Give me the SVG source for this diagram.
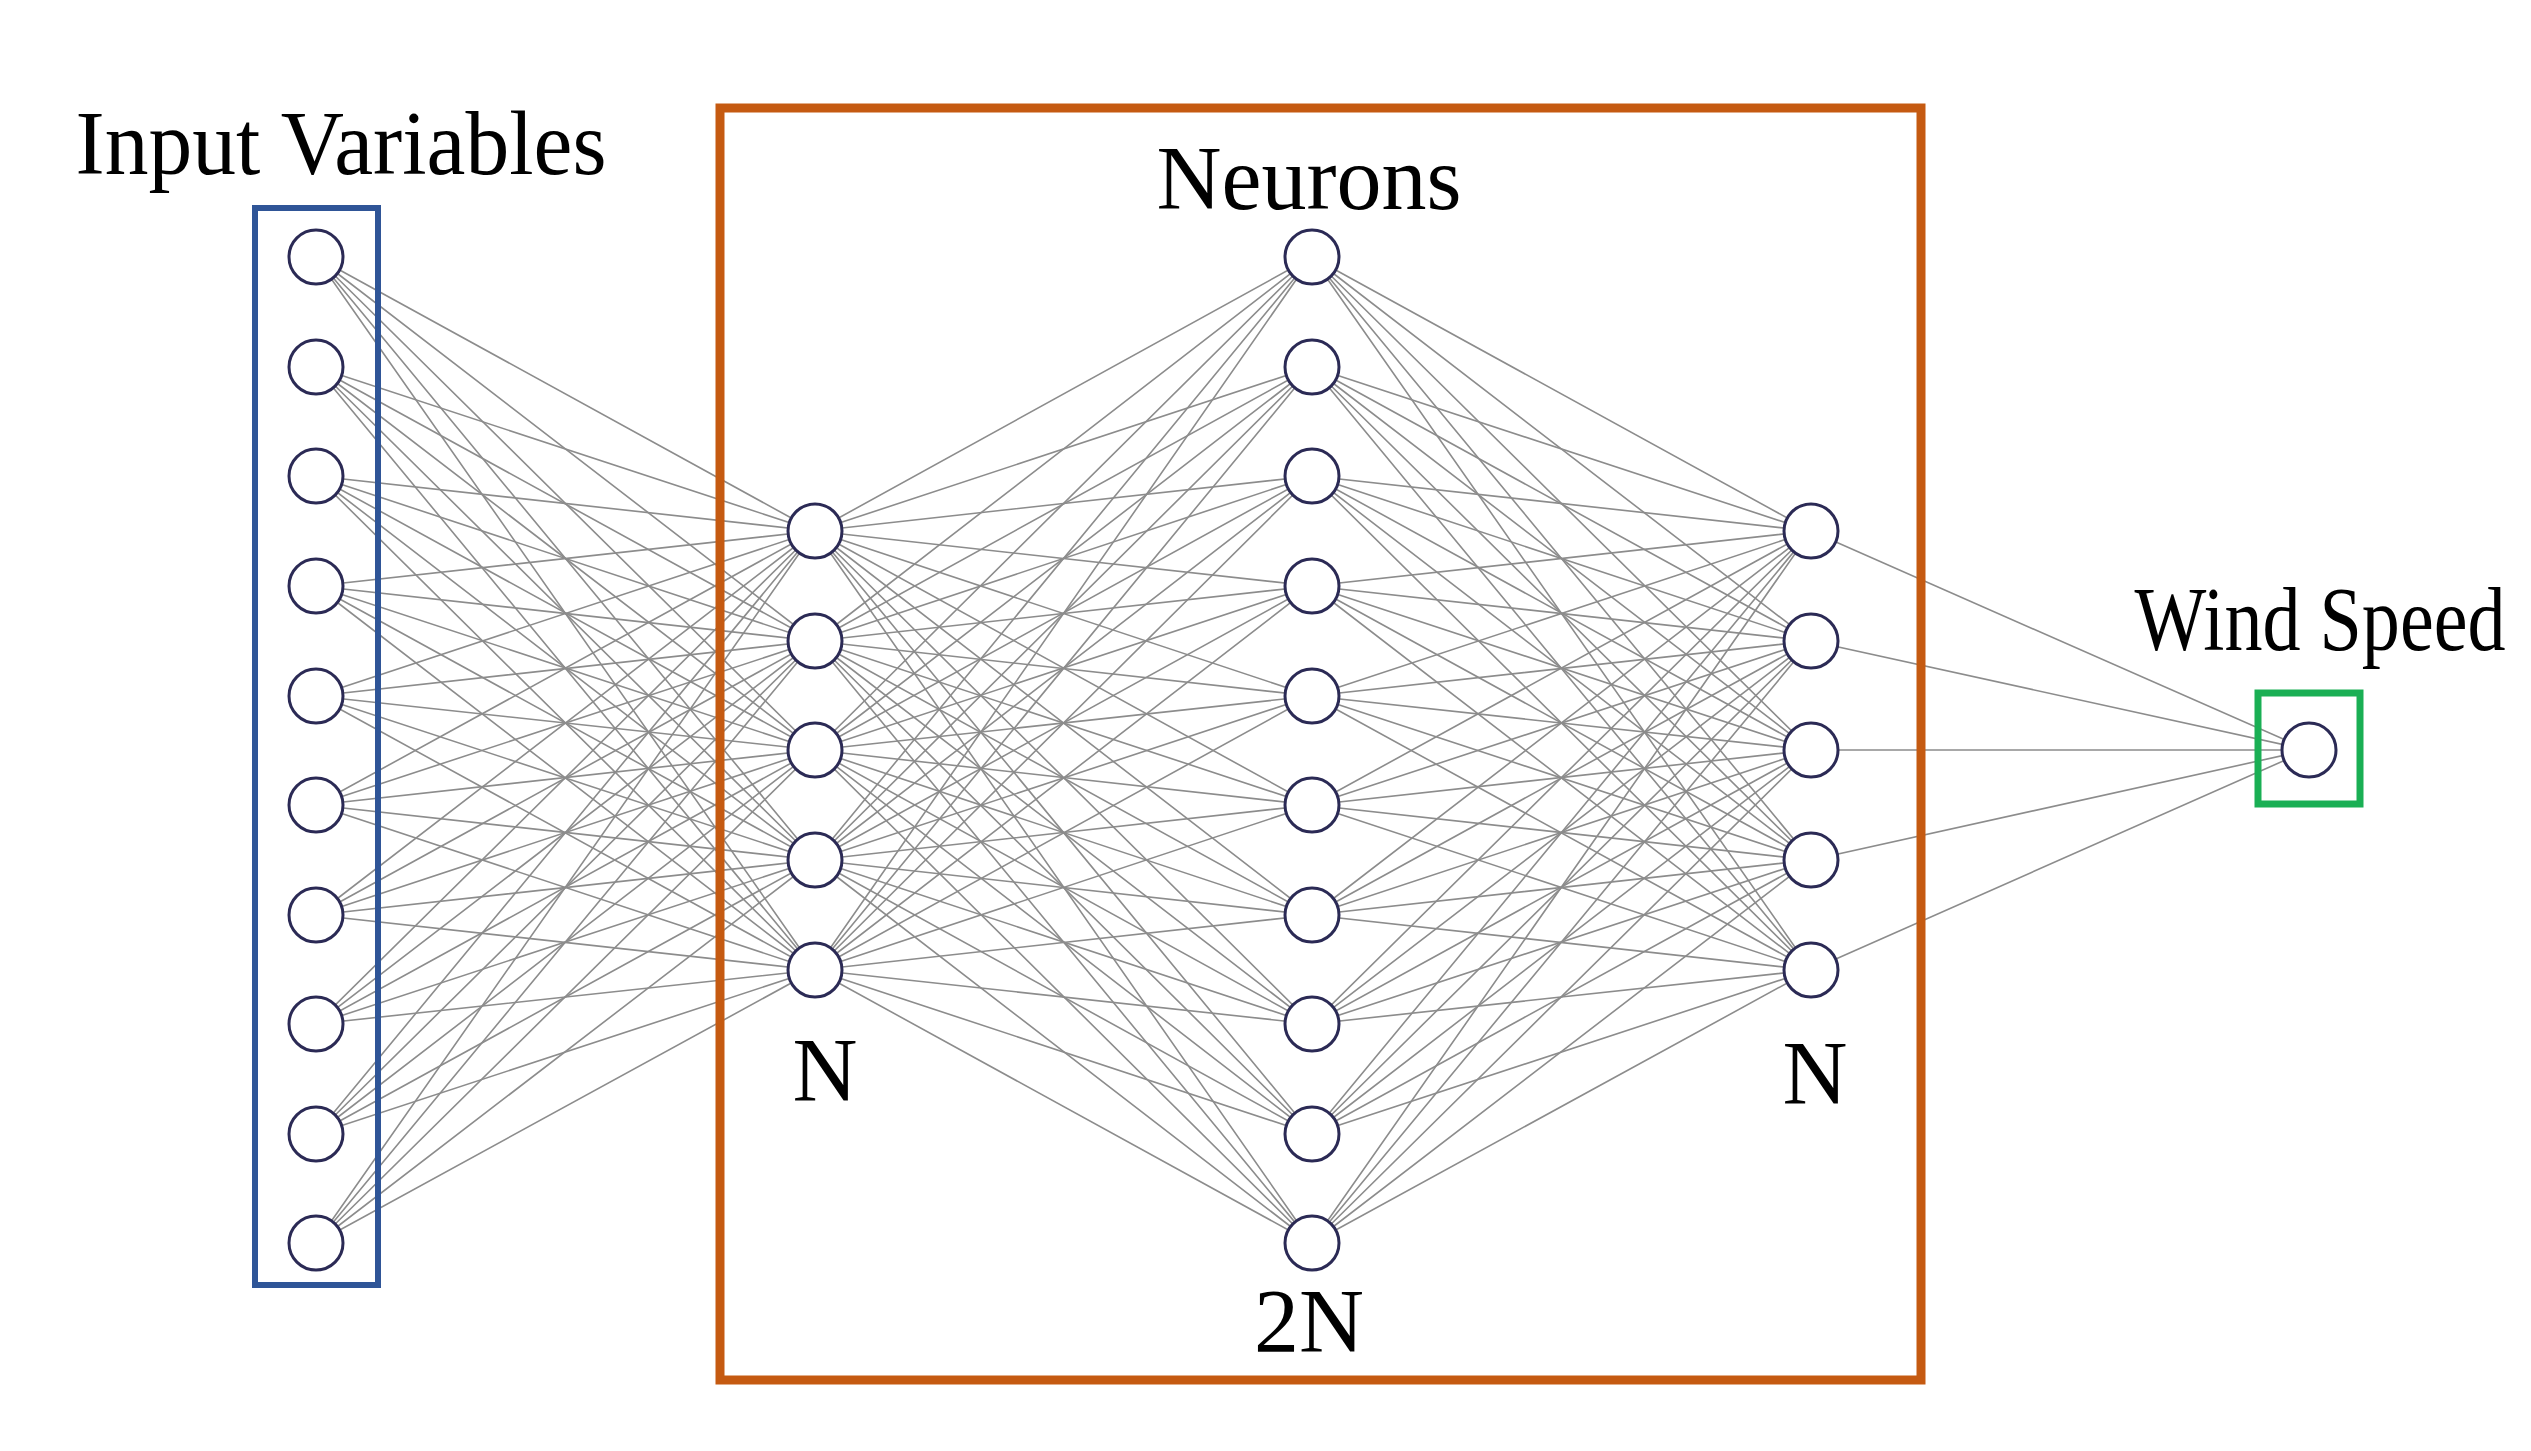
<svg xmlns="http://www.w3.org/2000/svg" width="2531" height="1451" viewBox="0 0 2531 1451">
<style>
.t{font-family:"Liberation Serif","Times New Roman",serif;font-size:90px;fill:#000;text-anchor:middle}
.c{fill:#fff;stroke:#2b2a55;stroke-width:3}
.e{fill:none;stroke:#8c8c8c;stroke-width:1.6}
</style>
<rect width="2531" height="1451" fill="#fff"/>
<g id="connectors" class="e">
<path d="M316 257L815 531M316 257L815 641M316 257L815 750M316 257L815 860M316 257L815 970"/>
<path d="M316 367L815 531M316 367L815 641M316 367L815 750M316 367L815 860M316 367L815 970"/>
<path d="M316 476L815 531M316 476L815 641M316 476L815 750M316 476L815 860M316 476L815 970"/>
<path d="M316 586L815 531M316 586L815 641M316 586L815 750M316 586L815 860M316 586L815 970"/>
<path d="M316 696L815 531M316 696L815 641M316 696L815 750M316 696L815 860M316 696L815 970"/>
<path d="M316 805L815 531M316 805L815 641M316 805L815 750M316 805L815 860M316 805L815 970"/>
<path d="M316 915L815 531M316 915L815 641M316 915L815 750M316 915L815 860M316 915L815 970"/>
<path d="M316 1024L815 531M316 1024L815 641M316 1024L815 750M316 1024L815 860M316 1024L815 970"/>
<path d="M316 1134L815 531M316 1134L815 641M316 1134L815 750M316 1134L815 860M316 1134L815 970"/>
<path d="M316 1243L815 531M316 1243L815 641M316 1243L815 750M316 1243L815 860M316 1243L815 970"/>
<path d="M815 531L1312 257M815 531L1312 367M815 531L1312 476M815 531L1312 586M815 531L1312 696M815 531L1312 805M815 531L1312 915M815 531L1312 1024M815 531L1312 1134M815 531L1312 1243"/>
<path d="M815 641L1312 257M815 641L1312 367M815 641L1312 476M815 641L1312 586M815 641L1312 696M815 641L1312 805M815 641L1312 915M815 641L1312 1024M815 641L1312 1134M815 641L1312 1243"/>
<path d="M815 750L1312 257M815 750L1312 367M815 750L1312 476M815 750L1312 586M815 750L1312 696M815 750L1312 805M815 750L1312 915M815 750L1312 1024M815 750L1312 1134M815 750L1312 1243"/>
<path d="M815 860L1312 257M815 860L1312 367M815 860L1312 476M815 860L1312 586M815 860L1312 696M815 860L1312 805M815 860L1312 915M815 860L1312 1024M815 860L1312 1134M815 860L1312 1243"/>
<path d="M815 970L1312 257M815 970L1312 367M815 970L1312 476M815 970L1312 586M815 970L1312 696M815 970L1312 805M815 970L1312 915M815 970L1312 1024M815 970L1312 1134M815 970L1312 1243"/>
<path d="M1811 531L1312 257M1811 531L1312 367M1811 531L1312 476M1811 531L1312 586M1811 531L1312 696M1811 531L1312 805M1811 531L1312 915M1811 531L1312 1024M1811 531L1312 1134M1811 531L1312 1243"/>
<path d="M1811 641L1312 257M1811 641L1312 367M1811 641L1312 476M1811 641L1312 586M1811 641L1312 696M1811 641L1312 805M1811 641L1312 915M1811 641L1312 1024M1811 641L1312 1134M1811 641L1312 1243"/>
<path d="M1811 750L1312 257M1811 750L1312 367M1811 750L1312 476M1811 750L1312 586M1811 750L1312 696M1811 750L1312 805M1811 750L1312 915M1811 750L1312 1024M1811 750L1312 1134M1811 750L1312 1243"/>
<path d="M1811 860L1312 257M1811 860L1312 367M1811 860L1312 476M1811 860L1312 586M1811 860L1312 696M1811 860L1312 805M1811 860L1312 915M1811 860L1312 1024M1811 860L1312 1134M1811 860L1312 1243"/>
<path d="M1811 970L1312 257M1811 970L1312 367M1811 970L1312 476M1811 970L1312 586M1811 970L1312 696M1811 970L1312 805M1811 970L1312 915M1811 970L1312 1024M1811 970L1312 1134M1811 970L1312 1243"/>
<path d="M1811 531L2308 750M1811 641L2308 750M1811 750L2308 750M1811 860L2308 750M1811 970L2308 750"/>
</g>
<g id="input-box"><rect x="255" y="208" width="123" height="1077" fill="none" stroke="#2f5597" stroke-width="6"/></g>
<g id="hidden-box"><rect x="720" y="108" width="1201" height="1272" fill="none" stroke="#c55a11" stroke-width="9"/></g>
<g id="output-box"><rect x="2258" y="693" width="102" height="111" fill="none" stroke="#1aaf54" stroke-width="7"/></g>
<g id="input-layer">
<circle class="c" cx="316" cy="257" r="27"/><circle class="c" cx="316" cy="367" r="27"/><circle class="c" cx="316" cy="476" r="27"/><circle class="c" cx="316" cy="586" r="27"/><circle class="c" cx="316" cy="696" r="27"/><circle class="c" cx="316" cy="805" r="27"/><circle class="c" cx="316" cy="915" r="27"/><circle class="c" cx="316" cy="1024" r="27"/><circle class="c" cx="316" cy="1134" r="27"/><circle class="c" cx="316" cy="1243" r="27"/>
<text class="t" x="341" y="174" textLength="531" lengthAdjust="spacingAndGlyphs">Input Variables</text>
</g>
<g id="hidden-layer-1">
<circle class="c" cx="815" cy="531" r="27"/><circle class="c" cx="815" cy="641" r="27"/><circle class="c" cx="815" cy="750" r="27"/><circle class="c" cx="815" cy="860" r="27"/><circle class="c" cx="815" cy="970" r="27"/>
<text class="t" x="825" y="1101">N</text>
</g>
<g id="hidden-layer-2">
<circle class="c" cx="1312" cy="257" r="27"/><circle class="c" cx="1312" cy="367" r="27"/><circle class="c" cx="1312" cy="476" r="27"/><circle class="c" cx="1312" cy="586" r="27"/><circle class="c" cx="1312" cy="696" r="27"/><circle class="c" cx="1312" cy="805" r="27"/><circle class="c" cx="1312" cy="915" r="27"/><circle class="c" cx="1312" cy="1024" r="27"/><circle class="c" cx="1312" cy="1134" r="27"/><circle class="c" cx="1312" cy="1243" r="27"/>
<text class="t" x="1309" y="209">Neurons</text>
<text class="t" x="1309" y="1352">2N</text>
</g>
<g id="hidden-layer-3">
<circle class="c" cx="1811" cy="531" r="27"/><circle class="c" cx="1811" cy="641" r="27"/><circle class="c" cx="1811" cy="750" r="27"/><circle class="c" cx="1811" cy="860" r="27"/><circle class="c" cx="1811" cy="970" r="27"/>
<text class="t" x="1815" y="1104">N</text>
</g>
<g id="output">
<circle class="c" cx="2309" cy="750" r="27"/>
<text class="t" x="2320" y="650" font-size="80" textLength="371" lengthAdjust="spacingAndGlyphs">Wind Speed</text>
</g>
</svg>
